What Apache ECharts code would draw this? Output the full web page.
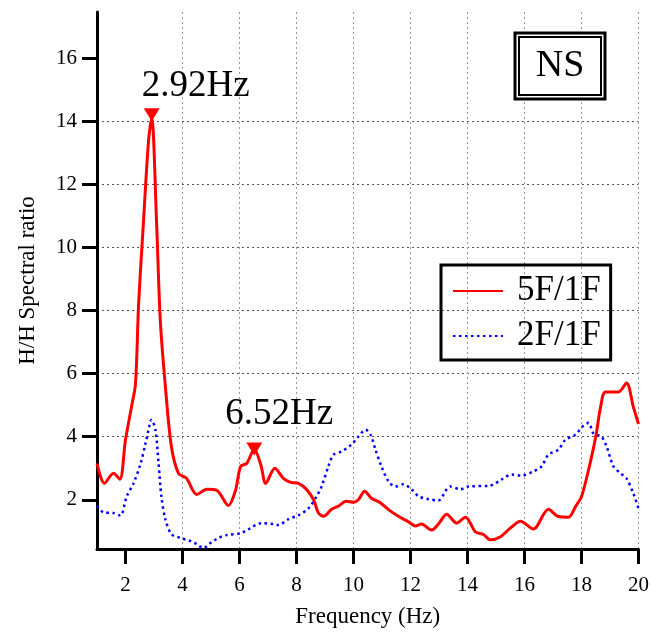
<!DOCTYPE html>
<html>
<head>
<meta charset="utf-8">
<script src="https://cdn.jsdelivr.net/npm/echarts@6/dist/echarts.min.js"></script>
<style>
  html, body { margin: 0; padding: 0; background: #fff; }
  #main { width: 652px; height: 633px; }
</style>
</head>
<body>
<div id="main"></div>
<script>
// 5F/1F spectral ratio
const freqRed = [1.0,1.26,1.58,1.8,2.0,2.21,2.35,2.46,2.63,2.81,2.92,3.09,3.22,3.4,3.61,3.86,4.14,4.5,4.86,5.2,5.61,5.86,6.04,6.25,6.52,6.75,6.92,7.24,7.54,7.8,8.07,8.35,8.6,8.77,8.95,9.23,9.47,9.75,10.0,10.17,10.39,10.63,10.95,11.3,11.68,11.93,12.17,12.38,12.74,12.98,13.27,13.62,13.93,14.28,14.56,14.8,15.16,15.5,15.86,16.31,16.84,17.19,17.54,17.8,18.0,18.25,18.5,18.67,18.84,19.3,19.58,19.82,20.0];
const valRed = [3.15,2.52,2.84,2.65,3.9,4.94,5.67,8.2,10.8,13.4,14.1,10.8,7.7,5.58,3.69,2.84,2.68,2.17,2.33,2.3,1.82,2.3,3.06,3.15,3.6,3.1,2.52,3.0,2.68,2.55,2.52,2.33,2.0,1.58,1.48,1.7,1.8,1.95,1.92,2.0,2.27,2.05,1.9,1.64,1.42,1.3,1.17,1.23,1.04,1.23,1.54,1.26,1.45,0.98,0.9,0.73,0.83,1.1,1.32,1.07,1.7,1.47,1.45,1.8,2.1,2.96,4.0,4.94,5.42,5.42,5.7,4.94,4.4];

// 2F/1F spectral ratio
const freqBlue = [1.0,1.23,1.58,1.82,2.04,2.28,2.53,2.7,2.81,2.91,3.05,3.16,3.26,3.4,3.61,3.93,4.28,4.49,4.74,4.98,5.26,5.54,6.04,6.32,6.77,7.2,7.37,7.72,8.07,8.42,8.7,8.88,9.12,9.3,9.58,9.93,10.17,10.42,10.6,10.77,10.98,11.23,11.47,11.75,12.04,12.28,12.63,12.98,13.27,13.4,13.75,14.03,14.8,15.19,15.55,15.9,16.32,16.6,16.84,17.19,17.43,17.78,18.07,18.25,18.42,18.7,18.88,19.12,19.37,19.58,19.82,20.0];
const valBlue = [1.8,1.6,1.58,1.5,2.1,2.52,3.15,3.78,4.22,4.54,4.22,3.15,2.1,1.38,0.91,0.79,0.69,0.6,0.47,0.63,0.79,0.88,0.94,1.07,1.26,1.23,1.2,1.39,1.51,1.73,2.1,2.42,3.06,3.43,3.53,3.75,4.0,4.22,4.06,3.59,3.06,2.58,2.42,2.49,2.33,2.11,2.02,1.98,2.33,2.42,2.33,2.42,2.45,2.64,2.8,2.77,2.9,3.06,3.43,3.59,3.9,4.06,4.35,4.44,4.1,4.0,3.69,3.06,2.84,2.68,2.2,1.73];

// picked peaks
const peakFreqs = [2.92, 6.52];
const peakVals = [14.0, 3.4];

const xTicks = [2,4,6,8,10,12,14,16,18,20];
const yTicks = [2,4,6,8,10,12,14,16];

const FONT = '"Liberation Serif", "Times New Roman", serif';

const chart = echarts.init(document.getElementById('main'));

const peakLabelStyle = [
    { offset: [44, 0], distance: 3 },
    { offset: [25, 0], distance: 10 }
];

const option = {
    animation: false,
    grid: { left: 97, right: 12, top: 12, bottom: 80 },
    xAxis: {
        type: 'value',
        min: 1,
        max: 20,
        splitNumber: 10,
        name: 'Frequency (Hz)',
        nameLocation: 'middle',
        nameGap: 56,
        nameTextStyle: { fontFamily: FONT, fontSize: 23, color: '#000' },
        axisLine: { lineStyle: { color: '#000', width: 3 } },
        axisTick: { customValues: xTicks, length: 15, lineStyle: { color: '#000', width: 3 } },
        axisLabel: { customValues: xTicks, margin: 26, fontFamily: FONT, fontSize: 21, color: '#000' },
        splitLine: {
            show: true, showMinLine: false,
            lineStyle: { color: '#999', width: 1, type: [2, 3] }
        }
    },
    yAxis: {
        type: 'value',
        min: 0.44,
        max: 17.46,
        splitNumber: 8,
        name: 'H/H Spectral ratio',
        nameLocation: 'middle',
        nameGap: 58,
        nameTextStyle: { fontFamily: FONT, fontSize: 23, color: '#000' },
        axisLine: { show: true, lineStyle: { color: '#000', width: 3 } },
        axisTick: { show: true, customValues: yTicks, length: 15, lineStyle: { color: '#000', width: 3 } },
        axisLabel: { customValues: yTicks, margin: 20, fontFamily: FONT, fontSize: 21, color: '#000' },
        splitLine: {
            show: true, showMinLine: false, showMaxLine: false,
            lineStyle: { color: '#555', width: 1, type: [2, 3] }
        }
    },
    legend: {
        orient: 'vertical',
        left: 441,
        top: 265,
        data: ['5F/1F', '2F/1F'],
        borderColor: '#000',
        borderWidth: 3,
        padding: [6, 10, 4, 11],
        itemWidth: 50,
        itemHeight: 14,
        itemGap: 5,
        itemStyle: { opacity: 0 },
        textStyle: { fontFamily: FONT, fontSize: 35, color: '#000', lineHeight: 40, padding: [0, 0, 0, 9] }
    },
    graphic: [
        { type: 'rect', shape: { x: 515, y: 33, width: 90, height: 66 }, style: { fill: '#fff', stroke: '#000', lineWidth: 3 }, z: 10 },
        { type: 'rect', shape: { x: 519, y: 37, width: 82, height: 58 }, style: { fill: 'none', stroke: '#000', lineWidth: 2 }, z: 11 },
        { type: 'text', x: 560, y: 66, style: { text: 'NS', font: '38px ' + FONT, fill: '#000', align: 'center', verticalAlign: 'middle' }, z: 12 }
    ],
    series: [
        {
            name: '5F/1F',
            type: 'line',
            data: freqRed.map((f, i) => [f, valRed[i]]),
            symbol: 'none',
            smooth: 0.3,
            lineStyle: { color: '#ff0000', width: 3 },
            itemStyle: { color: '#ff0000' },
            z: 3,
            markPoint: {
                symbol: 'triangle',
                symbolRotate: 180,
                symbolSize: [16, 13],
                symbolOffset: [0, '-50%'],
                itemStyle: { color: '#ff0000', opacity: 1 },
                label: { show: true, position: 'top', fontFamily: FONT, fontSize: 37, color: '#000' },
                data: peakFreqs.map((f, i) => ({
                    name: f.toFixed(2) + 'Hz',
                    coord: [f, peakVals[i]],
                    label: { formatter: '{b}', offset: peakLabelStyle[i].offset, distance: peakLabelStyle[i].distance }
                }))
            }
        },
        {
            name: '2F/1F',
            type: 'line',
            data: freqBlue.map((f, i) => [f, valBlue[i]]),
            symbol: 'none',
            smooth: 0.3,
            lineStyle: { color: '#0000ff', width: 2.5, type: [2.5, 3.5] },
            itemStyle: { color: '#0000ff' },
            z: 2
        }
    ]
};

chart.setOption(option);
window.addEventListener('resize', () => chart.resize());
</script>
</body>
</html>
